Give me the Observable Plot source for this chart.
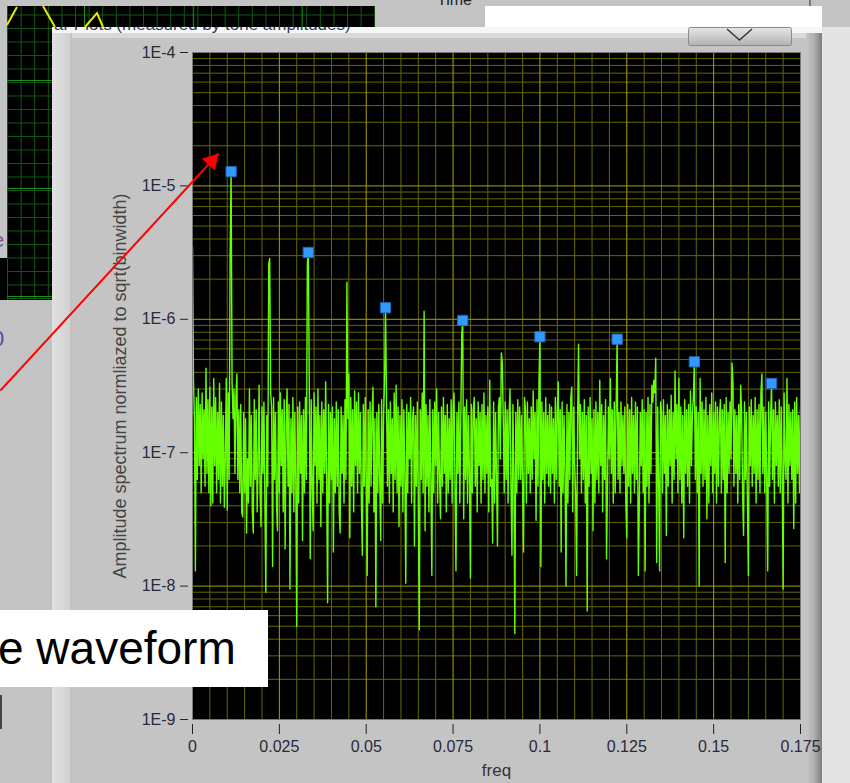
<!DOCTYPE html>
<html><head><meta charset="utf-8">
<script src="https://cdn.jsdelivr.net/npm/d3@7"></script>
<script src="https://cdn.jsdelivr.net/npm/@observablehq/plot@0.6"></script>
<style>
body{margin:0;background:#c3c3c3}
#root{position:relative;width:850px;height:783px;overflow:hidden;font-family:"Liberation Sans",Arial,sans-serif}
#root svg.layer{position:absolute;left:0;top:0}
#chart{position:absolute;left:0;top:0}
</style></head><body>
<div id="root">
<svg class="layer" id="back" width="850" height="783">
  <defs>
    <pattern id="g1" width="13.6" height="13.5" patternUnits="userSpaceOnUse" x="7" y="1">
      <path d="M0 0.5H13.6M0.5 0V13.5" stroke="#0f5a0f" stroke-width="1"/>
    </pattern>
    <pattern id="g2" width="108.8" height="108" patternUnits="userSpaceOnUse" x="84" y="-28">
      <path d="M0 0.5H108.8M0.5 0V108" stroke="#1b8e1b" stroke-width="1.2"/>
    </pattern>
    <linearGradient id="lstrip" x1="0" x2="1"><stop offset="0" stop-color="#e0e0e0"/><stop offset="0.85" stop-color="#d2d2d2"/><stop offset="1" stop-color="#bcbcbc"/></linearGradient>
    <linearGradient id="redge" x1="0" x2="1"><stop offset="0" stop-color="#c6c6c6"/><stop offset="0.5" stop-color="#b0b0b0"/><stop offset="1" stop-color="#7c7c7c"/></linearGradient>
    <linearGradient id="btn" x1="0" y1="0" x2="0" y2="1"><stop offset="0" stop-color="#e6e6e6"/><stop offset="1" stop-color="#b2b2b2"/></linearGradient>
  </defs>
  <rect width="850" height="783" fill="#c3c3c3"/>
  <text x="-7" y="247" font-size="20" fill="#7b4f95">e</text>
  <text x="-8" y="346" font-size="22" fill="#5a4aa0">0</text>
  <!-- main window -->
  <rect x="52" y="20" width="770" height="763" fill="#c4c4c4"/>
  <rect x="52" y="20" width="770" height="13" fill="#f6f6f6"/>
  <text x="54" y="30" font-size="17" fill="#2e3a66">ar Plots (measured by tone amplitudes)</text>
  <rect x="52" y="33" width="770" height="5" fill="#d9d9d9"/>
  <rect x="52" y="33" width="20" height="750" fill="url(#lstrip)"/>
  <rect x="806" y="33" width="16" height="750" fill="url(#redge)"/>
  <rect x="822" y="27" width="28" height="756" fill="#e4e4e4"/>
  <!-- top-left chart pieces -->
  <rect x="7" y="6" width="368" height="21" fill="#000"/>
  <rect x="7" y="6" width="368" height="21" fill="url(#g1)"/>
  <rect x="7" y="6" width="368" height="21" fill="url(#g2)"/>
  <rect x="7" y="27" width="45" height="273" fill="#000"/>
  <rect x="7" y="27" width="45" height="273" fill="url(#g1)"/>
  <rect x="7" y="27" width="45" height="273" fill="url(#g2)"/>
  <rect x="0" y="258" width="7" height="42" fill="#000"/>
  <polyline points="7,25 17,7" stroke="#e8e800" stroke-width="2" fill="none"/>
  <polyline points="43,6 55,27" stroke="#e8e800" stroke-width="2" fill="none"/>
  <polyline points="85,27 97,13 103,27" stroke="#e8e800" stroke-width="2" fill="none"/>
  <rect x="375" y="6" width="110" height="21" fill="#c3c3c3"/>
  <text x="437" y="5" font-size="16" fill="#222">Time</text>
  <rect x="485" y="6" width="337" height="21" fill="#ffffff"/>
  <rect x="809" y="0" width="2" height="6" fill="#777"/>
  <!-- dropdown button -->
  <rect x="688.5" y="27.5" width="103" height="18" rx="2" fill="url(#btn)" stroke="#8a8a8a"/>
  <polyline points="727,29 739.5,40 752,29" stroke="#333" stroke-width="1.4" fill="none"/>
</svg>
<div id="chart"></div>
<svg class="layer" id="front" width="850" height="783">
  <rect x="0" y="610" width="268" height="77" fill="#ffffff"/>
  <text x="-2" y="664" font-size="46" fill="#000" font-family="Liberation Sans, Arial, sans-serif">e waveform</text>
  <rect x="0" y="695" width="2" height="34" fill="#444"/>
</svg>
</div>
<script>
// ---- data ----
const binWidth = 1 / 3600;      // frequency step of the spectrum
const ampUnit = 1e-8;           // amplitudes below are in units of 1e-8
const amp = [
  350, 36, 18, 1.3, 26, 6.3, 30, 8, 23, 5,
  28, 9, 21, 5.6, 43, 7, 25, 5, 31, 4,
  22, 4.2, 36, 8, 26, 5, 20, 6.3, 33, 4.2,
  24, 5.6, 19, 3.9, 9, 36, 3.7, 28, 6.3, 320,
  1280, 34, 18, 30, 7, 26, 39, 6.3, 21, 5,
  23, 3.6, 3.3, 20, 5, 18, 2.5, 9, 4.2, 30,
  5.6, 19, 3.6, 2.5, 25, 6.3, 21, 3.6, 8, 32,
  5, 2.8, 22, 7, 24, 4.2, 0.9, 19, 5.6, 260,
  286, 28, 22, 1.4, 26, 6.3, 20, 4.2, 2.6, 24,
  5, 28, 8, 21, 3.6, 25, 1.9, 16, 30, 5.6,
  23, 0.95, 18, 5, 26, 3.6, 20, 6.3, 0.5, 22,
  4.2, 24, 7, 19, 2.2, 21, 5, 26, 6.3, 260,
  317, 34, 1.6, 25, 5.6, 2.6, 28, 8, 22, 4.2,
  30, 6.3, 19, 2.8, 24, 5, 21, 7, 34, 5.6,
  0.75, 23, 4.2, 20, 6.3, 22, 1.8, 18, 5, 24,
  5.6, 21, 3.6, 2.5, 22, 7, 19, 4.2, 25, 6.3,
  190, 18, 39, 2.3, 26, 5.6, 21, 3.6, 29, 8,
  24, 5, 28, 7, 20, 4.2, 1.7, 23, 5.6, 26,
  6.3, 1.2, 21, 4.2, 24, 5.6, 19, 31, 3.6, 18,
  0.7, 20, 5, 23, 6.3, 2.2, 25, 4.2, 19, 34,
  122, 26, 5.6, 21, 4.2, 24, 7, 18, 3.6, 28,
  6.3, 32, 5, 22, 2.8, 19, 5.6, 25, 3.6, 21,
  7, 1.05, 23, 5, 20, 9, 26, 4.2, 18, 22,
  2.0, 19, 5.6, 24, 4.2, 0.47, 21, 6.3, 28, 5,
  115, 2.6, 23, 5.6, 19, 3.6, 25, 6.3, 1.2, 21,
  5, 24, 8, 30, 4.2, 20, 6.3, 3.2, 22, 5.6,
  26, 7, 19, 3.6, 23, 5, 18, 6.3, 25, 4.2,
  21, 28, 5.6, 1.3, 20, 7, 24, 4.2, 18, 78,
  98, 3.2, 22, 6.3, 25, 4.2, 19, 7, 1.15, 23,
  5, 21, 26, 5.6, 18, 3.6, 24, 8, 20, 4.2,
  23, 6.3, 28, 5, 19, 7, 22, 3.6, 35, 5.6,
  6.3, 2.1, 24, 4.2, 20, 7, 2.0, 22, 26, 9,
  56, 47, 18, 5, 24, 6.3, 21, 4.2, 19, 30,
  5.6, 1.7, 23, 7, 0.44, 20, 5, 25, 6.3, 22,
  6.3, 19, 5.6, 1.8, 26, 21, 4.2, 24, 7, 18,
  5, 22, 6.3, 29, 9, 20, 3.1, 25, 5.6, 34,
  74, 1.4, 24, 6.3, 20, 4.2, 26, 7, 19, 5.6,
  23, 5, 22, 7, 18, 4.2, 26, 6.3, 20, 34,
  5.6, 21, 1.8, 24, 5, 19, 7, 1.0, 23, 4.2,
  20, 6.3, 26, 31, 3.6, 22, 8, 5, 1.2, 18,
  65, 9, 23, 5, 20, 6.3, 25, 4.2, 19, 0.65,
  22, 5.6, 26, 7, 18, 2.6, 21, 4.2, 24, 6.3,
  20, 5, 35, 8, 23, 3.6, 19, 6.3, 25, 1.6,
  5.6, 22, 9, 36, 7, 21, 4.2, 24, 5, 23,
  71, 6.3, 20, 5, 24, 8, 19, 7, 22, 4.2,
  2.3, 23, 5.6, 21, 4.2, 26, 7, 19, 5, 24,
  6.3, 22, 1.2, 4.2, 20, 8, 25, 5, 21, 1.3,
  20, 5.6, 26, 4.2, 23, 7, 32, 24, 35, 28,
  51, 1.5, 22, 6.3, 1.3, 24, 20, 5, 25, 7,
  19, 2.4, 23, 5.6, 21, 8, 27, 4.2, 20, 6.3,
  41, 9, 23, 5, 36, 6.3, 22, 4.2, 19, 2.3,
  25, 7, 21, 5.6, 23, 4.2, 29, 8, 20, 26,
  48, 6.3, 22, 5, 20, 1.0, 36, 7, 24, 5.6,
  21, 6.3, 26, 3.2, 19, 4.2, 23, 8, 28, 5,
  20, 7, 24, 4.2, 22, 5.6, 18, 25, 5, 21,
  6.3, 23, 1.5, 26, 5, 20, 7, 24, 9, 47,
  34, 5.6, 21, 7, 19, 4.2, 23, 6.3, 32, 20,
  5, 2.4, 24, 6.3, 20, 4.2, 1.2, 22, 8, 25,
  5.6, 19, 7, 26, 4.2, 21, 6.3, 23, 5, 28,
  39, 7, 22, 5, 20, 6.3, 1.3, 24, 5.6, 18,
  33, 6.3, 21, 4.2, 24, 8, 19, 5.6, 25, 5,
  22, 7, 0.95, 28, 9, 6.3, 36, 4.2, 23, 8,
  20, 6.3, 21, 2.7, 24, 4.2, 26, 7, 19, 5,
  22
];
const peakBins = [40, 120, 200, 280, 360, 440, 520, 600]; // marked odd harmonics
const xTicks = [0, 0.025, 0.05, 0.075, 0.1, 0.125, 0.15, 0.175];
const xMinorTicks = [0.005, 0.01, 0.015, 0.02, 0.03, 0.035, 0.04, 0.045, 0.055, 0.06, 0.065, 0.07,
  0.08, 0.085, 0.09, 0.095, 0.105, 0.11, 0.115, 0.12, 0.13, 0.135, 0.14, 0.145,
  0.155, 0.16, 0.165, 0.17];
const yTicks = [1e-9, 1e-8, 1e-7, 1e-6, 1e-5, 1e-4];
const yMinorMultipliers = [2, 3, 4, 5, 6, 7, 8, 9];
const yLabel = "Amplitude spectrum normliazed to sqrt(binwidth)";
const xLabel = "freq";
const arrowNote = [{f1: -0.0553, a1: 2.92e-7, f2: 0.0075, a2: 1.75e-5}];

// ---- derived tables ----
const spectrum = amp.map((a, i) => ({f: i * binWidth, a: a * ampUnit}));
const peaks = peakBins.map(b => ({f: b * binWidth, a: amp[b] * ampUnit}));
const yMinor = yTicks.slice(0, -1).flatMap(d => yMinorMultipliers.map(m => d * m));

const font = "Liberation Sans, Arial, sans-serif";
const chart = Plot.plot({
  width: 850, height: 783,
  marginLeft: 192, marginRight: 50, marginTop: 52, marginBottom: 64,
  style: {background: "transparent", fontFamily: font, fontSize: "16px", overflow: "visible"},
  x: {domain: [0, 0.175]},
  y: {type: "log", domain: [1e-9, 1e-4]},
  marks: [
    Plot.frame({fill: "#000", stroke: null}),
    Plot.ruleX(xMinorTicks, {stroke: "#666600", strokeWidth: 1}),
    Plot.ruleY(yMinor, {stroke: "#666600", strokeWidth: 1}),
    Plot.ruleX(xTicks, {stroke: "#a3a300", strokeWidth: 1}),
    Plot.ruleY(yTicks, {stroke: "#a3a300", strokeWidth: 1}),
    Plot.line(spectrum, {x: "f", y: "a", stroke: "#66ff00", strokeWidth: 1.4}),
    Plot.dot(peaks, {x: "f", y: "a", symbol: "square", r: 5.8, fill: "#3399ff", stroke: "#1f66b8", strokeWidth: 1}),
    Plot.frame({stroke: "#7a7a7a", fill: null}),
    Plot.axisX(xTicks, {anchor: "bottom", tickSize: 10, dy: 5, tickPadding: 6, tickFormat: d => String(d),
      fill: "#2a2a3a", stroke: "#222", fontSize: 16, label: null}),
    Plot.axisY(yTicks, {anchor: "left", tickSize: 8, dx: -4, tickPadding: 5,
      tickFormat: d => "1E" + Math.round(Math.log10(d)), fill: "#2a2a3a", stroke: "#222", fontSize: 16, label: null}),
    Plot.text([yLabel], {text: d => d, frameAnchor: "left", textAnchor: "middle", rotate: -90, dx: -72, fontSize: 18, fill: "#444", fontFamily: font}),
    Plot.text([xLabel], {text: d => d, frameAnchor: "bottom", dy: 56, fontSize: 17, fill: "#333", fontFamily: font}),
    Plot.link(arrowNote, {x1: "f1", y1: "a1", x2: "f2", y2: "a2", stroke: "#ff0000", strokeWidth: 2}),
    Plot.dot(arrowNote, {x: "f2", y: "a2", symbol: "triangle", r: 6.5, fill: "#ff0000", rotate: 42.6, dx: -6.8, dy: 7.4})
  ]
});
document.getElementById("chart").appendChild(chart);
</script>
</body></html>
